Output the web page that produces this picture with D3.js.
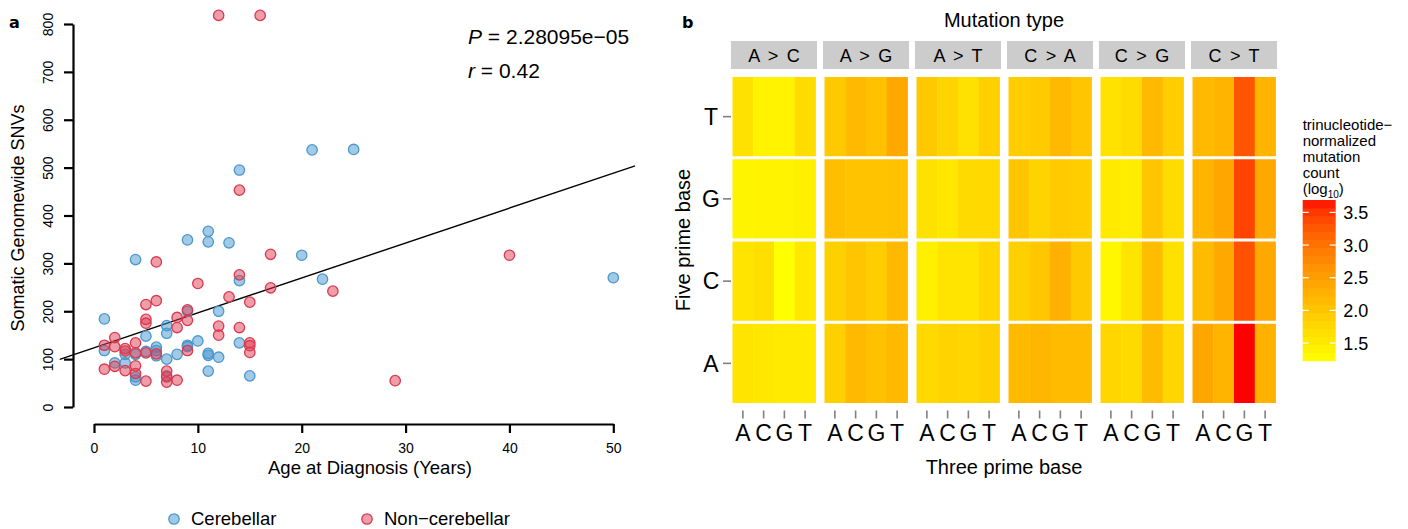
<!DOCTYPE html>
<html>
<head>
<meta charset="utf-8">
<script src="https://cdn.jsdelivr.net/npm/d3@7"></script>
<style>
  body { margin: 0; background: #fff; }
  text { font-family: "Liberation Sans", Arial, Helvetica, sans-serif; fill: #000; }
</style>
</head>
<body>
<div id="chart"></div>
<script>
// panel a: age at diagnosis vs genomewide SNVs
var cerebellarAge = [21, 25, 14, 4, 9, 11, 11, 13, 20, 14, 22, 12, 9, 1, 7, 7, 5, 14, 15, 10, 9, 9, 11, 11, 12, 11, 8, 7, 6, 6, 6, 5, 4, 3, 3, 2, 1, 4, 4, 7, 50];
var cerebellarSnv = [537, 538, 495, 308, 349, 367, 345, 343, 317, 264, 267, 200, 200, 184, 170, 154, 148, 134, 65, 138, 129, 126, 112, 108, 104, 75, 110, 100, 125, 118, 107, 116, 110, 110, 92, 92, 118, 63, 56, 65, 270];
var nonCerebellarAge = [12, 16, 14, 6, 17, 14, 10, 23, 17, 13, 15, 6, 5, 9, 9, 5, 5, 8, 8, 2, 12, 12, 14, 15, 15, 15, 9, 6, 5, 4, 4, 3, 3, 3, 2, 2, 1, 1, 4, 4, 5, 7, 7, 7, 8, 40, 29];
var nonCerebellarSnv = [818, 818, 453, 303, 319, 276, 258, 242, 249, 230, 219, 222, 214, 203, 181, 183, 175, 187, 166, 145, 169, 150, 166, 134, 128, 114, 118, 111, 113, 134, 113, 122, 117, 76, 126, 85, 129, 79, 86, 70, 54, 75, 63, 52, 56, 317, 55];
var xTicks = [0, 10, 20, 30, 40, 50];
var yTicks = [0, 100, 200, 300, 400, 500, 600, 700, 800];
var fitIntercept = 123.5;
var fitSlope = 7.3;
var fitRange = [-3.3, 52.1];

// panel b: trinucleotide-normalized counts (log10), rows = five prime A,C,G,T, cols = three prime A,C,G,T
var mutationTypes = ['A > C', 'A > G', 'A > T', 'C > A', 'C > G', 'C > T'];
var bases = ['A', 'C', 'G', 'T'];
var countAtoC = [[1.60, 1.54, 1.52, 1.51], [1.60, 1.66, 1.23, 1.54], [1.38, 1.40, 1.40, 1.43], [1.64, 1.40, 1.40, 1.70]];
var countAtoG = [[1.86, 2.17, 2.06, 2.15], [1.86, 2.01, 1.90, 2.17], [2.09, 2.04, 2.04, 2.06], [1.96, 2.17, 2.06, 2.37]];
var countAtoT = [[1.75, 1.82, 1.78, 1.86], [1.43, 1.60, 1.60, 1.78], [1.64, 1.56, 1.73, 1.75], [1.96, 1.81, 1.64, 1.88]];
var countCtoA = [[2.15, 2.20, 2.14, 2.14], [1.87, 1.99, 2.28, 1.96], [2.01, 1.83, 1.94, 1.91], [1.91, 1.94, 2.17, 2.01]];
var countCtoG = [[1.78, 1.73, 2.14, 1.79], [1.34, 1.60, 2.11, 1.64], [1.51, 1.48, 2.01, 1.70], [1.62, 1.70, 2.17, 1.91]];
var countCtoT = [[2.40, 2.22, 3.69, 2.27], [2.14, 2.37, 3.32, 2.37], [2.22, 2.41, 3.43, 2.37], [2.17, 2.23, 3.29, 2.22]];
var legendTicks = [1.5, 2.0, 2.5, 3.0, 3.5];

(function() {
  var width = 1408;
  var height = 529;
  var boldSans = '"DejaVu Sans", "Liberation Sans", sans-serif';
  var blueFill = 'rgba(70,150,205,0.5)';
  var blueStroke = '#4a98cd';
  var redFill = 'rgba(222,62,84,0.5)';
  var redStroke = '#d9394f';
  var svg = d3.select('#chart').append('svg').attr('width', width).attr('height', height);

  renderScatter();
  renderHeatmap();

  /*
   * Panel a, base R look
   */
  function renderScatter() {
    var x = d3.scaleLinear().domain([0, 50]).range([94, 613.3]);
    var y = d3.scaleLinear().domain([0, 800]).range([407, 24]);
    var g = svg.append('g');

    var yAxis = g.append('g')
      .attr('transform', 'translate(73,0)')
      .call(d3.axisLeft(y).tickValues(yTicks).tickSize(9).tickSizeOuter(0));
    yAxis.selectAll('text')
      .attr('x', 0).attr('dy', 0)
      .attr('transform', 'translate(-20,0) rotate(-90)')
      .attr('text-anchor', 'middle');

    var xAxis = g.append('g')
      .attr('transform', 'translate(0,424)')
      .call(d3.axisBottom(x).tickValues(xTicks).tickSize(9).tickSizeOuter(0).tickPadding(10));

    [yAxis, xAxis].forEach(function(axis) {
      axis.select('.domain').attr('stroke-width', 2.2);
      axis.selectAll('.tick line').attr('stroke-width', 2.2);
      axis.selectAll('text').style('font-size', '14px')
        .style('font-family', '"Liberation Sans", Arial, sans-serif').attr('fill', '#000');
    });

    g.append('line')
      .attr('x1', x(fitRange[0])).attr('y1', y(fitIntercept + fitSlope * fitRange[0]))
      .attr('x2', x(fitRange[1])).attr('y2', y(fitIntercept + fitSlope * fitRange[1]))
      .attr('stroke', '#000').attr('stroke-width', 1.4);

    g.selectAll('.cb').data(cerebellarAge).enter().append('circle')
      .attr('cx', function(d) { return x(d); })
      .attr('cy', function(d, i) { return y(cerebellarSnv[i]); })
      .attr('r', 5.2)
      .attr('fill', blueFill).attr('stroke', blueStroke).attr('stroke-width', 1.3);

    g.selectAll('.ncb').data(nonCerebellarAge).enter().append('circle')
      .attr('cx', function(d) { return x(d); })
      .attr('cy', function(d, i) { return y(nonCerebellarSnv[i]); })
      .attr('r', 5.2)
      .attr('fill', redFill).attr('stroke', redStroke).attr('stroke-width', 1.3);

    var stats = g.append('text').attr('x', 468).attr('y', 44).style('font-size', '21px');
    stats.append('tspan').style('font-style', 'italic').text('P');
    stats.append('tspan').text(' = 2.28095e\u221205');
    var rText = g.append('text').attr('x', 468).attr('y', 78).style('font-size', '21px');
    rText.append('tspan').style('font-style', 'italic').text('r');
    rText.append('tspan').text(' = 0.42');

    g.append('text').attr('x', 370).attr('y', 474).attr('text-anchor', 'middle')
      .style('font-size', '18.5px').text('Age at Diagnosis (Years)');
    g.append('text').attr('transform', 'translate(24,218) rotate(-90)').attr('text-anchor', 'middle')
      .style('font-size', '18px').text('Somatic Genomewide SNVs');

    g.append('text').attr('x', 9).attr('y', 28)
      .style('font-family', boldSans).style('font-size', '16px').style('font-weight', 'bold').text('a');

    // legend
    var legend = [
      { label: 'Cerebellar', x: 174, fill: blueFill, stroke: blueStroke },
      { label: 'Non\u2212cerebellar', x: 367, fill: redFill, stroke: redStroke }
    ];
    var item = g.selectAll('.legend').data(legend).enter().append('g');
    item.append('circle')
      .attr('cx', function(d) { return d.x; }).attr('cy', 519).attr('r', 5.2)
      .attr('fill', function(d) { return d.fill; })
      .attr('stroke', function(d) { return d.stroke; }).attr('stroke-width', 1.3);
    item.append('text')
      .attr('x', function(d) { return d.x + 17; }).attr('y', 525)
      .style('font-size', '18.5px')
      .text(function(d) { return d.label; });
  }

  /*
   * Panel b, ggplot facet heatmap
   */
  function renderHeatmap() {
    var counts = [countAtoC, countAtoG, countAtoT, countCtoA, countCtoG, countCtoT];
    var panel = d3.scaleBand().domain(mutationTypes).range([731, 1277]).paddingInner(6 / 92);
    var col = d3.scaleBand().domain(bases).range([1.5, panel.bandwidth() - 1.5]);
    var row = d3.scaleBand().domain(bases.slice().reverse()).range([75.5, 404.5]);
    var color = d3.scaleLinear().domain([1.23, 3.69]).range(['#ffff00', '#ff0000']).interpolate(d3.interpolateLab);
    var g = svg.append('g');

    g.append('text').attr('x', 682).attr('y', 28)
      .style('font-family', boldSans).style('font-size', '16px').style('font-weight', 'bold').text('b');
    g.append('text').attr('x', 1004).attr('y', 27).attr('text-anchor', 'middle')
      .style('font-size', '20px').text('Mutation type');

    var panels = g.selectAll('.panel').data(mutationTypes).enter().append('g')
      .attr('transform', function(d) { return 'translate(' + panel(d) + ',0)'; });

    panels.append('rect')
      .attr('x', 0).attr('y', 41).attr('width', panel.bandwidth()).attr('height', 28)
      .attr('fill', '#cccccc');
    panels.append('text')
      .attr('x', panel.bandwidth() / 2).attr('y', 61.5).attr('text-anchor', 'middle')
      .style('font-size', '18px').style('word-spacing', '3.5px').attr('fill', '#1a1a1a')
      .text(function(d) { return d; });

    panels.each(function(type, p) {
      var cells = [];
      counts[p].forEach(function(values, r) {
        values.forEach(function(v, c) {
          cells.push({ five: bases[r], three: bases[c], value: v });
        });
      });
      var pg = d3.select(this);
      pg.selectAll('.cell').data(cells).enter().append('rect')
        .attr('x', function(d) { return col(d.three); })
        .attr('y', function(d) { return row(d.five); })
        .attr('width', col.bandwidth() + 0.4)
        .attr('height', row.bandwidth())
        .attr('fill', function(d) { return color(d.value); });
      // white separators between five prime rows
      pg.selectAll('.sep').data(d3.range(bases.length + 1)).enter().append('line')
        .attr('x1', 0).attr('x2', panel.bandwidth())
        .attr('y1', function(i) { return 75.5 + i * row.step(); })
        .attr('y2', function(i) { return 75.5 + i * row.step(); })
        .attr('stroke', '#fff').attr('stroke-width', 3);
      // three prime ticks and labels
      pg.selectAll('.xt').data(bases).enter().append('line')
        .attr('x1', function(d) { return col(d) + col.bandwidth() / 2; })
        .attr('x2', function(d) { return col(d) + col.bandwidth() / 2; })
        .attr('y1', 410.5).attr('y2', 418.5)
        .attr('stroke', '#808080').attr('stroke-width', 1.6);
      pg.selectAll('.xl').data(bases).enter().append('text')
        .attr('x', function(d) { return col(d) + col.bandwidth() / 2; })
        .attr('y', 441).attr('text-anchor', 'middle')
        .style('font-size', '23px').attr('fill', '#1a1a1a')
        .text(function(d) { return d; });
    });

    // five prime axis
    g.selectAll('.yt').data(bases).enter().append('line')
      .attr('x1', 723).attr('x2', 731)
      .attr('y1', function(d) { return row(d) + row.bandwidth() / 2; })
      .attr('y2', function(d) { return row(d) + row.bandwidth() / 2; })
      .attr('stroke', '#808080').attr('stroke-width', 1.6);
    g.selectAll('.yl').data(bases).enter().append('text')
      .attr('x', 711).attr('y', function(d) { return row(d) + row.bandwidth() / 2; })
      .attr('dy', '0.36em').attr('text-anchor', 'middle')
      .style('font-size', '23px').attr('fill', '#1a1a1a')
      .text(function(d) { return d; });

    g.append('text').attr('x', 1004).attr('y', 474).attr('text-anchor', 'middle')
      .style('font-size', '20px').text('Three prime base');
    g.append('text').attr('transform', 'translate(690,240) rotate(-90)').attr('text-anchor', 'middle')
      .style('font-size', '20px').text('Five prime base');

    renderLegend(g, color);
  }

  /*
   * Colourbar legend
   */
  function renderLegend(g, color) {
    var domain = color.domain();
    var barY = d3.scaleLinear().domain(domain).range([360.7, 200]);
    var barX = 1302.7;
    var barW = 33;
    var bins = 20;
    var titleLines = ['trinucleotide\u2212', 'normalized', 'mutation', 'count'];

    g.selectAll('.lt').data(titleLines).enter().append('text')
      .attr('x', barX).attr('y', function(d, i) { return 130 + i * 16; })
      .style('font-size', '15px')
      .text(function(d) { return d; });
    var logLine = g.append('text').attr('x', barX).attr('y', 194).style('font-size', '15px');
    logLine.append('tspan').text('(log');
    logLine.append('tspan').attr('dy', 4).style('font-size', '10px').text('10');
    logLine.append('tspan').attr('dy', -4).text(')');

    var step = (domain[1] - domain[0]) / bins;
    g.selectAll('.bin').data(d3.range(bins)).enter().append('rect')
      .attr('x', barX).attr('width', barW)
      .attr('y', function(i) { return barY(domain[0] + (i + 1) * step); })
      .attr('height', function(i) { return barY(domain[0] + i * step) - barY(domain[0] + (i + 1) * step) + 0.5; })
      .attr('fill', function(i) { return color(domain[0] + (i + 0.5) * step); });

    var ticks = g.selectAll('.lg').data(legendTicks).enter().append('g');
    ticks.append('line')
      .attr('x1', barX).attr('x2', barX + 6)
      .attr('y1', function(d) { return barY(d); }).attr('y2', function(d) { return barY(d); })
      .attr('stroke', '#fff').attr('stroke-width', 1.2);
    ticks.append('line')
      .attr('x1', barX + barW - 6).attr('x2', barX + barW)
      .attr('y1', function(d) { return barY(d); }).attr('y2', function(d) { return barY(d); })
      .attr('stroke', '#fff').attr('stroke-width', 1.2);
    ticks.append('text')
      .attr('x', barX + barW + 7.5).attr('y', function(d) { return barY(d); })
      .attr('dy', '0.36em').style('font-size', '18px').attr('fill', '#1a1a1a')
      .text(function(d) { return d3.format('.1f')(d); });
  }

}).call(this);
</script>
</body>
</html>
